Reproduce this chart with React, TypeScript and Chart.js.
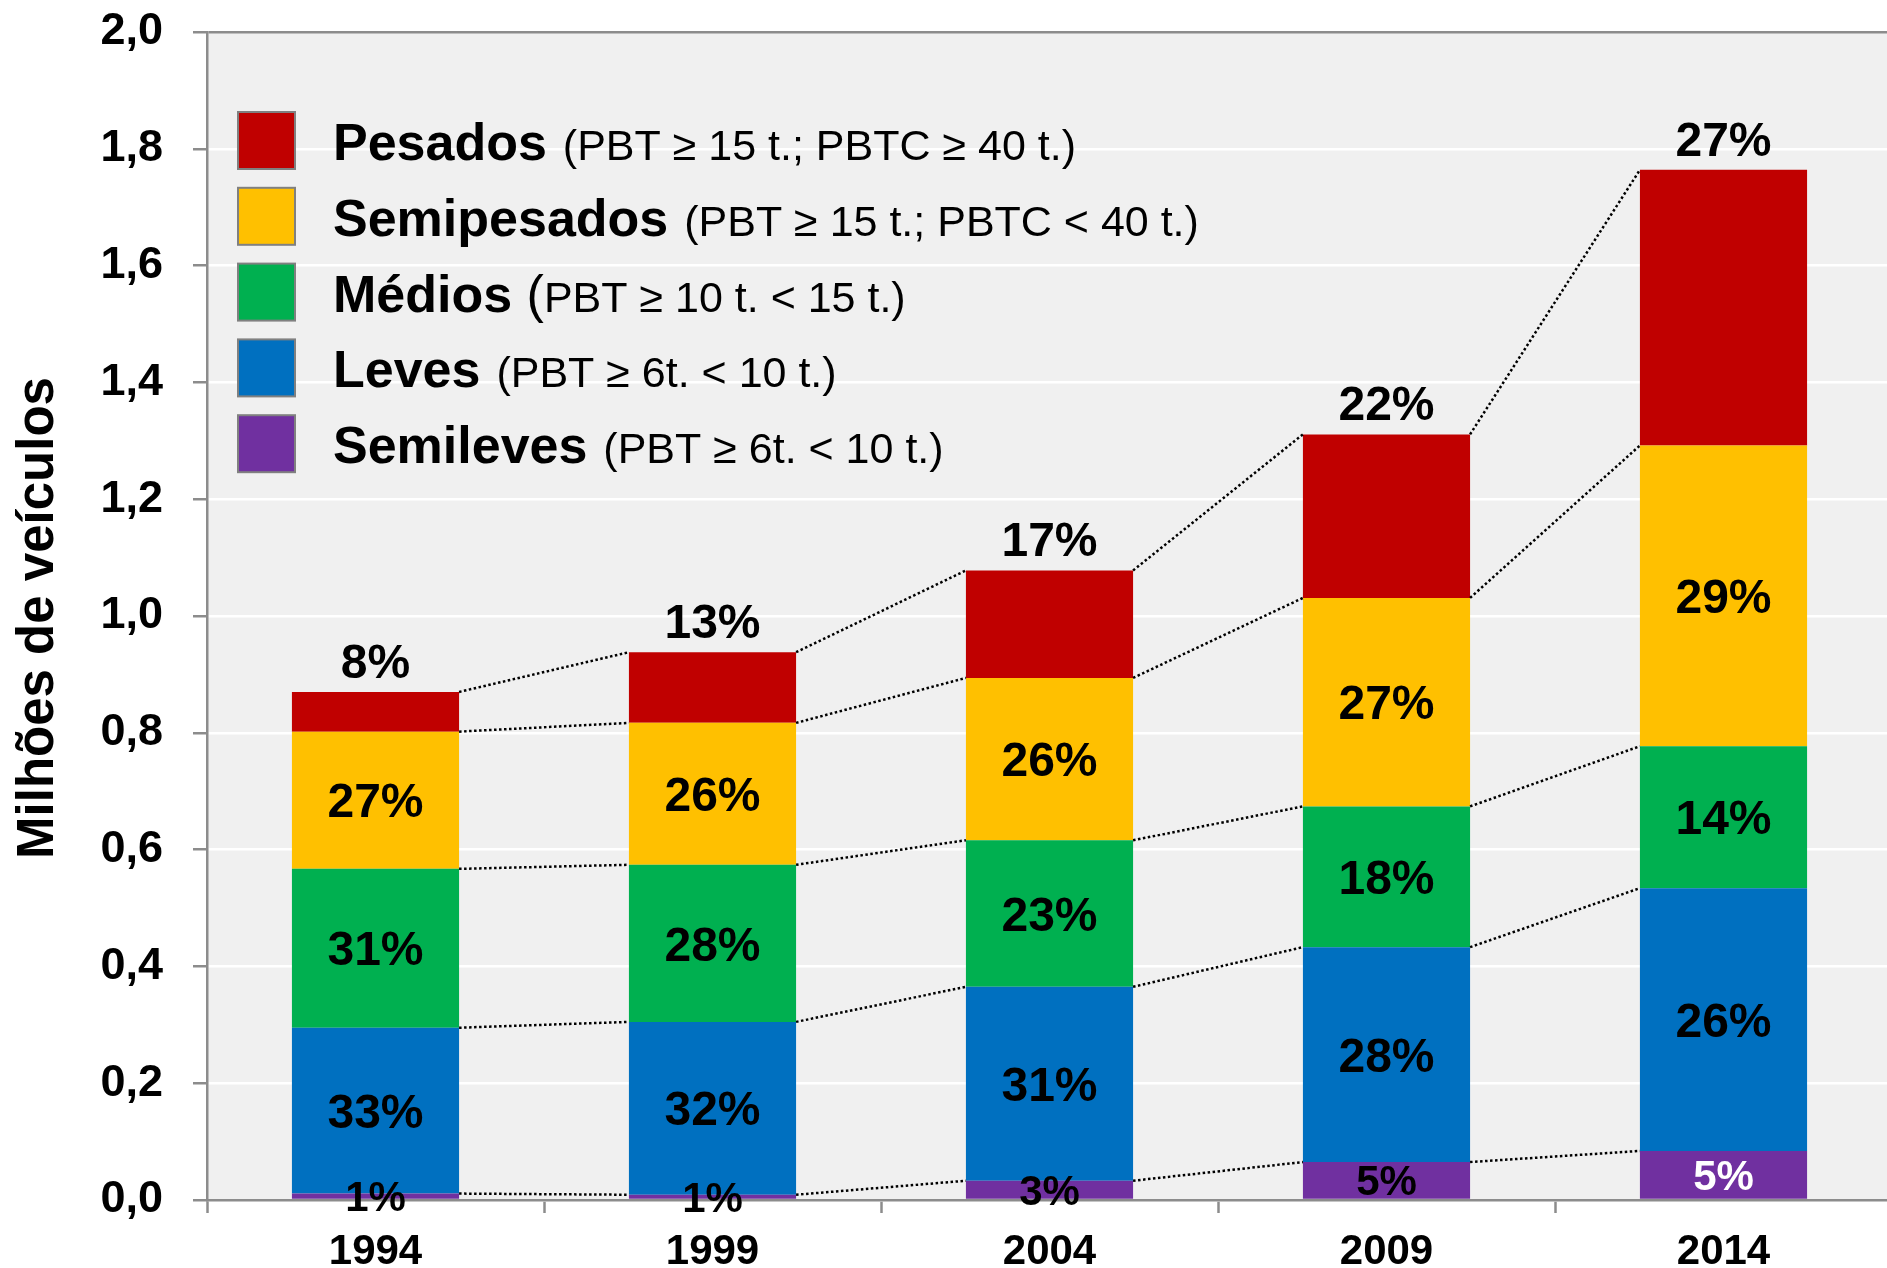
import React, { useEffect, useRef } from 'react';
import { Chart, registerables } from 'chart.js';

Chart.register(...registerables);

// ---- data (millions of vehicles) ----
const years = ['1994', '1999', '2004', '2009', '2014'];
const semileves = [0.011, 0.009, 0.033, 0.065, 0.084];
const leves = [0.284, 0.296, 0.332, 0.368, 0.45];
const medios = [0.272, 0.269, 0.251, 0.241, 0.243];
const semipesados = [0.235, 0.243, 0.278, 0.357, 0.515];
const pesados = [0.068, 0.121, 0.184, 0.28, 0.472];

const pctSemileves = ['1%', '1%', '3%', '5%', '5%'];
const pctLeves = ['33%', '32%', '31%', '28%', '26%'];
const pctMedios = ['31%', '28%', '23%', '18%', '14%'];
const pctSemipesados = ['27%', '26%', '26%', '27%', '29%'];
const pctPesados = ['8%', '13%', '17%', '22%', '27%'];

const seriesNames = ['Semileves', 'Leves', 'Médios', 'Semipesados', 'Pesados'];
const seriesColors = ['#7030A0', '#0070C0', '#00B050', '#FFC000', '#C00000'];

// legend (top to bottom): bold part, regular part
const legendBold = ['Pesados', 'Semipesados', 'Médios', 'Leves', 'Semileves'];
const legendParen = [' (', ' (', ' (', ' (', ' ('];
const legendRest = ['PBT ≥ 15 t.; PBTC ≥ 40 t.)', 'PBT ≥ 15 t.; PBTC < 40 t.)', 'PBT ≥ 10 t. < 15 t.)', 'PBT ≥ 6t. < 10 t.)', 'PBT ≥ 6t. < 10 t.)'];
const legendColors = ['#C00000', '#FFC000', '#00B050', '#0070C0', '#7030A0'];

const yTitle = 'Milhões de veículos';
const FONT = '"Liberation Sans", Arial, Helvetica, sans-serif';

export default function App() {
  const ref = useRef<HTMLCanvasElement>(null);

  useEffect(() => {
    const canvas = ref.current;
    if (!canvas) return;
    const values = [semileves, leves, medios, semipesados, pesados];
    const pcts = [pctSemileves, pctLeves, pctMedios, pctSemipesados, pctPesados];

    const custom = {
      id: 'custom',
      beforeDraw(chart: any) {
        const { ctx, chartArea: a } = chart;
        ctx.save();
        ctx.fillStyle = '#f0f0f0';
        ctx.fillRect(a.left, a.top, a.right - a.left, a.bottom - a.top);
        ctx.restore();
      },
      afterDatasetsDraw(chart: any) {
        const ctx = chart.ctx;
        ctx.save();
        // dotted connector lines
        ctx.strokeStyle = '#000';
        ctx.lineWidth = 2.5;
        ctx.setLineDash([2.5, 2.5]);
        for (let d = 0; d < values.length; d++) {
          const meta = chart.getDatasetMeta(d);
          for (let j = 0; j < meta.data.length - 1; j++) {
            const a = meta.data[j];
            const b = meta.data[j + 1];
            ctx.beginPath();
            ctx.moveTo(a.x + a.width / 2, a.y);
            ctx.lineTo(b.x - b.width / 2, b.y);
            ctx.stroke();
          }
        }
        ctx.setLineDash([]);
        // percentage labels
        ctx.textAlign = 'center';
        ctx.textBaseline = 'alphabetic';
        for (let d = 0; d < values.length; d++) {
          const meta = chart.getDatasetMeta(d);
          meta.data.forEach((bar: any, j: number) => {
            const txt = pcts[d][j];
            if (d === values.length - 1) {
              ctx.font = `bold 48px ${FONT}`;
              ctx.fillStyle = '#000';
              ctx.fillText(txt, bar.x, bar.y - 14);
            } else {
              const size = d === 0 ? 42 : 48;
              ctx.font = `bold ${size}px ${FONT}`;
              ctx.fillStyle = d === 0 && j === meta.data.length - 1 ? '#fff' : '#000';
              const cy = (bar.y + bar.base) / 2;
              ctx.fillText(txt, bar.x, cy + 0.358 * size);
            }
          });
        }
        ctx.restore();
      },
      afterDraw(chart: any) {
        const ctx = chart.ctx;
        ctx.save();
        // legend
        for (let i = 0; i < legendBold.length; i++) {
          const cy = 140 + i * 75.8;
          ctx.fillStyle = legendColors[i];
          ctx.fillRect(238, cy - 28, 57, 57);
          ctx.strokeStyle = '#808080';
          ctx.lineWidth = 2;
          ctx.strokeRect(238, cy - 28, 57, 57);
          const base = cy + 20;
          let x = 333;
          ctx.fillStyle = '#000';
          ctx.textAlign = 'left';
          ctx.textBaseline = 'alphabetic';
          ctx.font = `bold 52px ${FONT}`;
          ctx.fillText(legendBold[i], x, base);
          x += ctx.measureText(legendBold[i]).width;
          if (i === 2) {
            ctx.font = `52px ${FONT}`;
            ctx.fillText(legendParen[i], x, base);
            x += ctx.measureText(legendParen[i]).width;
            ctx.font = `43px ${FONT}`;
            ctx.fillText(legendRest[i], x, base);
          } else {
            ctx.font = `43px ${FONT}`;
            const s = legendParen[i] + legendRest[i];
            ctx.fillText(s, x + 4, base);
          }
        }
        // y title
        ctx.translate(39, 618);
        ctx.rotate(-Math.PI / 2);
        ctx.textAlign = 'center';
        ctx.textBaseline = 'middle';
        ctx.font = `bold 51px ${FONT}`;
        ctx.fillStyle = '#000';
        ctx.fillText(yTitle, 0, 0);
        ctx.restore();
      },
    };

    const chart = new Chart(canvas, {
      type: 'bar',
      data: {
        labels: years,
        datasets: values.map((v, i) => ({
          label: seriesNames[i],
          data: v,
          backgroundColor: seriesColors[i],
          borderWidth: 0,
          barPercentage: 0.496,
          categoryPercentage: 1,
        })),
      },
      options: {
        responsive: false,
        animation: false,
        devicePixelRatio: 1,
        layout: { padding: { top: 32, right: 8, left: 0, bottom: 0 } },
        plugins: { legend: { display: false }, tooltip: { enabled: false } },
        scales: {
          x: {
            stacked: true,
            afterFit: (s: any) => { s.height = 68; s.paddingLeft = 0; s.paddingRight = 0; },
            grid: {
              display: true,
              drawOnChartArea: false,
              drawTicks: true,
              tickLength: 13,
              tickColor: '#8c8c8c',
              tickWidth: 2.5,
              offset: true,
            },
            border: { display: true, color: '#8c8c8c', width: 2.5 },
            ticks: {
              color: '#000',
              font: { family: FONT, size: 42, weight: 'bold' },
              padding: 14,
              maxRotation: 0,
              autoSkip: false,
            },
          },
          y: {
            stacked: true,
            min: 0,
            max: 2,
            afterFit: (s: any) => { s.width = 207; s.paddingTop = 0; s.paddingBottom = 0; },
            grid: {
              color: (c: any) => (c.tick && Math.abs(c.tick.value - 2) < 1e-6 ? '#8c8c8c' : '#ffffff'),
              lineWidth: 2.5,
              drawTicks: true,
              tickLength: 14,
              tickColor: '#8c8c8c',
              tickWidth: 2.5,
            },
            border: { display: true, color: '#8c8c8c', width: 2.5 },
            ticks: {
              stepSize: 0.2,
              color: '#000',
              padding: 30,
              font: { family: FONT, size: 45, weight: 'bold' },
              callback: (v: any) => Number(v).toFixed(1).replace('.', ','),
            },
          },
        },
      },
      plugins: [custom],
    } as any);

    return () => chart.destroy();
  }, []);

  return (
    <div style={{ position: 'fixed', left: 0, top: 0, width: 1887, height: 1268, overflow: 'hidden', background: '#fff' }}>
      <canvas ref={ref} width={1900} height={1268} style={{ display: 'block' }} />
    </div>
  );
}
